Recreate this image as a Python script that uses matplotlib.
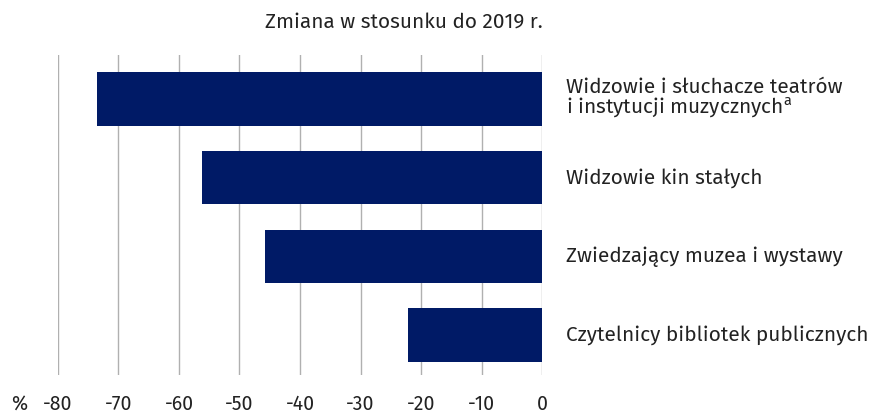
import matplotlib.pyplot as plt

plt.rcParams['font.family'] = ['Fira Sans', 'Noto Sans', 'DejaVu Sans']

categories = [
    "Widzowie i słuchacze teatrów\ni instytucji muzycznych$^{\\mathregular{a}}$",
    "Widzowie kin stałych",
    "Zwiedzający muzea i wystawy",
    "Czytelnicy bibliotek publicznych",
]
values = [-73.5, -56.2, -45.8, -22.1]
ticks = [-80, -70, -60, -50, -40, -30, -20, -10, 0]

fig = plt.figure(figsize=(8.76, 4.16), dpi=100)
ax = fig.add_axes([58 / 876, 1 - 375 / 416, (542 - 58) / 876, (375 - 55) / 416])

pos = list(range(len(values)))
ax.barh(pos, values, height=0.68, color="#001a66", zorder=3)

ax.set_xlim(-80, 0)
ax.set_ylim(3.51, -0.56)
ax.set_xticks(ticks)
ax.set_xticklabels([str(t) for t in ticks], fontsize=14, color="#222222")
ax.tick_params(axis="x", length=0, pad=14)
ax.set_yticks([])
ax.grid(axis="x", color="#b0b0b0", linewidth=1, zorder=0)
for s in ax.spines.values():
    s.set_visible(False)

for p, lab in zip(pos, categories):
    ax.text(1.05, 1 - (p + 0.56) / 4.07, lab, transform=ax.transAxes,
            ha="left", va="center", fontsize=15, color="#222222",
            linespacing=0.92)

# percent sign sits in line with the tick labels
ax.annotate("%", xy=(0, 0), xycoords="axes fraction", xytext=(-34, -14),
            textcoords="offset points", fontsize=14, color="#222222",
            ha="left", va="top")
fig.text(404 / 876, 1 - 22 / 416, "Zmiana w stosunku do 2019 r.", fontsize=15,
         color="#222222", ha="center", va="center")

fig.savefig("out.png", dpi=100)
